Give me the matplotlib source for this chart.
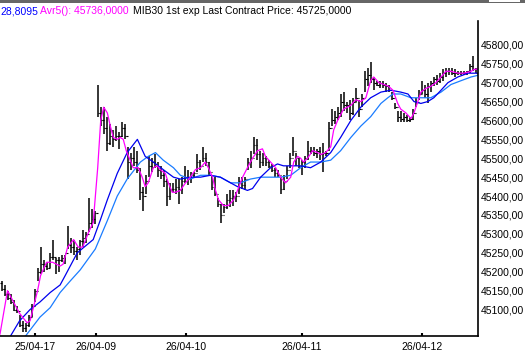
import numpy as np
import matplotlib
matplotlib.use('Agg')
import matplotlib.pyplot as plt
from matplotlib.patches import Rectangle

# bar data (one bar per index)
highs = [45175, 45165, 45150, 45140, 45125, 45110, 45085, 45070, 45065, 45085,
         45115, 45155, 45210, 45265, 45230, 45225, 45250, 45285, 45235, 45240,
         45245, 45245, 45320, 45290, 45285, 45265, 45285, 45310, 45305, 45395,
         45365, 45360, 45695, 45635, 45635, 45610, 45590, 45575, 45585, 45570,
         45595, 45590, 45530, 45515, 45530, 45520, 45475, 45425, 45455, 45505,
         45500, 45510, 45490, 45480, 45470, 45445, 45435, 45435, 45445, 45445,
         45450, 45480, 45470, 45465, 45465, 45510, 45495, 45530, 45515, 45490,
         45455, 45450, 45395, 45380, 45380, 45405, 45415, 45415, 45410, 45450,
         45450, 45450, 45500, 45520, 45555, 45550, 45520, 45515, 45505, 45495,
         45485, 45475, 45470, 45450, 45455, 45480, 45515, 45555, 45515, 45500,
         45495, 45505, 45545, 45530, 45530, 45525, 45530, 45540, 45520, 45595,
         45630, 45625, 45635, 45670, 45675, 45650, 45655, 45660, 45685, 45655,
         45670, 45730, 45740, 45755, 45715, 45705, 45705, 45705, 45700, 45695,
         45675, 45645, 45625, 45625, 45620, 45615, 45610, 45630, 45660, 45680,
         45705, 45695, 45700, 45705, 45715, 45720, 45725, 45735, 45740, 45740,
         45740, 45735, 45730, 45730, 45730, 45730, 45750, 45770, 45740]
lows = [45150, 45135, 45125, 45115, 45095, 45090, 45055, 45040, 45040, 45055,
        45080, 45120, 45175, 45195, 45200, 45205, 45210, 45230, 45195, 45200,
        45225, 45220, 45260, 45250, 45245, 45230, 45245, 45265, 45275, 45305,
        45315, 45325, 45610, 45585, 45565, 45520, 45535, 45530, 45545, 45525,
        45555, 45550, 45445, 45470, 45480, 45460, 45390, 45360, 45405, 45450,
        45465, 45475, 45450, 45445, 45425, 45375, 45390, 45410, 45405, 45380,
        45405, 45435, 45430, 45435, 45450, 45465, 45470, 45490, 45480, 45455,
        45415, 45400, 45370, 45330, 45355, 45365, 45370, 45375, 45385, 45405,
        45420, 45415, 45470, 45475, 45510, 45495, 45475, 45480, 45480, 45475,
        45465, 45450, 45450, 45405, 45415, 45445, 45475, 45505, 45480, 45475,
        45455, 45475, 45495, 45510, 45505, 45500, 45495, 45465, 45505, 45520,
        45585, 45590, 45600, 45610, 45625, 45620, 45600, 45615, 45650, 45610,
        45635, 45675, 45690, 45700, 45680, 45690, 45685, 45685, 45675, 45675,
        45655, 45630, 45595, 45595, 45595, 45595, 45595, 45600, 45635, 45655,
        45670, 45660, 45645, 45675, 45690, 45695, 45700, 45705, 45715, 45720,
        45720, 45715, 45720, 45720, 45720, 45720, 45725, 45730, 45725]
closes = [45155, 45140, 45130, 45120, 45100, 45095, 45060, 45050, 45060, 45080,
          45110, 45150, 45200, 45220, 45215, 45210, 45240, 45240, 45230, 45230,
          45235, 45250, 45270, 45265, 45255, 45260, 45280, 45290, 45300, 45330,
          45340, 45355, 45620, 45600, 45580, 45540, 45560, 45550, 45560, 45560,
          45580, 45560, 45490, 45500, 45490, 45470, 45410, 45400, 45440, 45480,
          45490, 45480, 45470, 45455, 45440, 45400, 45420, 45420, 45425, 45420,
          45440, 45450, 45445, 45455, 45460, 45490, 45480, 45500, 45490, 45465,
          45425, 45405, 45380, 45350, 45370, 45390, 45395, 45400, 45400, 45440,
          45430, 45445, 45490, 45500, 45535, 45510, 45490, 45500, 45490, 45480,
          45470, 45460, 45455, 45420, 45440, 45470, 45500, 45520, 45500, 45480,
          45490, 45500, 45520, 45520, 45515, 45520, 45510, 45515, 45515, 45580,
          45600, 45610, 45620, 45650, 45640, 45640, 45620, 45650, 45660, 45630,
          45660, 45710, 45720, 45710, 45700, 45695, 45700, 45695, 45690, 45680,
          45660, 45635, 45610, 45605, 45610, 45600, 45605, 45620, 45650, 45670,
          45680, 45670, 45690, 45700, 45710, 45705, 45715, 45725, 45730, 45730,
          45725, 45725, 45725, 45725, 45725, 45730, 45745, 45735, 45725]
first_open = 45170

# moving averages (bar index, price)
avg5_x = [-0.5, 2, 6, 8.5, 9.5, 12, 13, 15, 17, 19.5, 20.5, 22, 24, 25.5, 27, 29,
          30.5, 32, 33, 34, 35.2, 36.2, 37.2, 38.5, 39.5, 40.5, 41.5, 42.8, 43.8,
          45.5, 46.8, 47.8, 48.8, 50.5, 51.8, 52.8, 54.5, 55.5, 56.8, 57.8, 59.5,
          61.2, 62.8, 64.5, 66.2, 67.8, 68.8, 70.2, 71.2, 72.2, 73.8, 75.5, 77.2,
          78.5, 80.2, 81.8, 83.5, 85.2, 86.8, 87.8, 89.5, 91.2, 92.8, 94.5, 96.2,
          97.2, 98.5, 99.5, 100.5, 101.8, 103.5, 105.2, 106.2, 107.8, 109.5,
          110.5, 111.8, 113.8, 116.2, 117.8, 119.5, 121.2, 122.8, 123.8, 125.5,
          127.2, 128.8, 130.2, 131.8, 132.8, 134.5, 136.2, 137.2, 138.5, 139.5,
          141.2, 142.8, 144.5, 146.2, 147.8, 149.5, 151.8, 153.8, 156.2, 157.2,
          158.5]
avg5_y = [45035, 45150, 45090, 45065, 45070, 45150, 45190, 45225, 45225, 45215,
          45220, 45265, 45285, 45265, 45265, 45305, 45330, 45475, 45600, 45635,
          45620, 45585, 45555, 45550, 45555, 45550, 45520, 45495, 45475, 45475,
          45450, 45425, 45435, 45475, 45480, 45470, 45460, 45435, 45410, 45410,
          45415, 45435, 45450, 45470, 45475, 45490, 45475, 45450, 45415, 45390,
          45375, 45375, 45390, 45415, 45450, 45475, 45500, 45520, 45525, 45505,
          45490, 45475, 45450, 45435, 45450, 45490, 45505, 45500, 45490, 45500,
          45520, 45515, 45510, 45515, 45530, 45575, 45600, 45630, 45640, 45655,
          45650, 45660, 45705, 45715, 45700, 45695, 45690, 45680, 45645, 45630,
          45620, 45605, 45620, 45650, 45675, 45685, 45690, 45700, 45715, 45730,
          45730, 45725, 45725, 45730, 45735, 45736]
ma_dark_x = [3, 6, 9.5, 12.8, 16.2, 19.5, 21.2, 25.2, 30.5, 32.8, 35.2, 38.5,
             41.8, 45.2, 47.8, 50.5, 53.8, 57.2, 59.5, 62.8, 66.2, 69.5, 72.8,
             76.2, 78.5, 80.2, 81.8, 83.5, 86.2, 89.5, 91.8, 93.8, 96.2, 99.5,
             102.8, 106.2, 109.5, 112.8, 116.2, 119.5, 122.8, 126.2, 129.5, 132.8,
             135.2, 137.2, 139.5, 141.8, 143.8, 146.2, 148.5, 151.8, 155.2, 158.5]
ma_dark_y = [45030, 45070, 45100, 45120, 45145, 45165, 45190, 45250, 45285, 45335,
             45390, 45460, 45515, 45550, 45505, 45490, 45470, 45450, 45445, 45450,
             45450, 45455, 45450, 45435, 45425, 45420, 45415, 45420, 45450, 45475,
             45485, 45480, 45480, 45480, 45475, 45490, 45515, 45555, 45600, 45635,
             45660, 45675, 45680, 45675, 45670, 45650, 45645, 45650, 45660, 45680,
             45700, 45715, 45725, 45725]
ma_light_x = [8, 12.8, 16.2, 19.5, 22.8, 26.2, 31.2, 35.2, 38.5, 41.8, 46.2, 48.8,
              51.2, 53.8, 57.2, 59.5, 62.8, 66.2, 69.5, 72.8, 76.2, 79.5, 82.8,
              86.2, 89.5, 92.8, 96.2, 99.5, 102.8, 106.2, 109.5, 112.8, 116.2,
              119.5, 122.8, 126.2, 128.5, 130.2, 132.8, 136.2, 139.5, 142.8, 146.2,
              149.5, 152.8, 156.2, 158.8]
ma_light_y = [45030, 45080, 45105, 45145, 45175, 45205, 45260, 45335, 45400, 45445,
              45490, 45505, 45515, 45495, 45475, 45455, 45445, 45455, 45455, 45450,
              45435, 45435, 45445, 45450, 45450, 45450, 45455, 45475, 45490, 45490,
              45495, 45520, 45555, 45585, 45610, 45645, 45660, 45670, 45670, 45660,
              45660, 45660, 45675, 45695, 45705, 45715, 45720]

tick_idx = [11, 31.5, 61.5, 100, 140]
tick_labels = ['25/04-17', '26/04-09', '26/04-10', '26/04-11', '26/04-12']
y_ticks = list(range(45100, 45801, 50))

W, H = 525, 356
fig = plt.figure(figsize=(W / 100, H / 100), dpi=100)
fig.patch.set_facecolor('white')
ax = fig.add_axes([0, 20 / H, 478 / W, (336 - 21) / H])

n = len(highs)
idx = np.arange(n)
opens = [first_open] + closes[:-1]

ax.vlines(idx, lows, highs, color='black', linewidth=1.1)
ax.hlines(opens, idx - 0.45, idx, color='black', linewidth=0.8)
ax.hlines(closes, idx, idx + 0.45, color='black', linewidth=0.8)

ax.plot(ma_light_x, ma_light_y, color='#1a7cff', linewidth=0.9)
ax.plot(ma_dark_x, ma_dark_y, color='#0000ee', linewidth=0.9)
ax.plot(avg5_x, avg5_y, color='#ff00ff', linewidth=0.9)

ax.set_xlim(-0.5, n - 0.5)
ax.set_ylim(45030, 45863)

for s in ['left', 'top']:
    ax.spines[s].set_visible(False)
ax.spines['right'].set_linewidth(1.2)
ax.spines['bottom'].set_linewidth(1.2)

ax.yaxis.tick_right()
ax.set_yticks(y_ticks)
ax.set_yticklabels([f'{v:.2f}'.replace('.', ',') for v in y_ticks])
ax.tick_params(axis='y', length=0, pad=2, labelsize=7.5)
ax.set_xticks(tick_idx)
ax.set_xticklabels(tick_labels)
ax.tick_params(axis='x', direction='in', length=2, width=1.5, pad=4, labelsize=7.5)
for lbl in ax.get_xticklabels() + ax.get_yticklabels():
    lbl.set_fontfamily('Liberation Sans')

# header strip
fig.patches.append(Rectangle((0, 1 - 3 / H), 1, 3 / H, transform=fig.transFigure,
                             facecolor='#666666', edgecolor='none'))
fig.patches.append(Rectangle((489 / W, 1 - 2 / H), 31 / W, 2 / H, transform=fig.transFigure,
                             facecolor='white', edgecolor='none'))

ty = 1 - 11 / H
fig.text(0.5 / W, ty, '28,8095', color='#0000ff', fontsize=7.5, va='center',
         family='Liberation Sans')
fig.text(40 / W, ty, 'Avr5(): 45736,0000', color='#ff00ff', fontsize=7.5, va='center',
         family='Liberation Sans')
fig.text(133 / W, ty, 'MIB30 1st exp Last Contract Price: 45725,0000', color='black',
         fontsize=7.5, va='center', family='Liberation Sans')

fig.savefig('out.png', dpi=100)
